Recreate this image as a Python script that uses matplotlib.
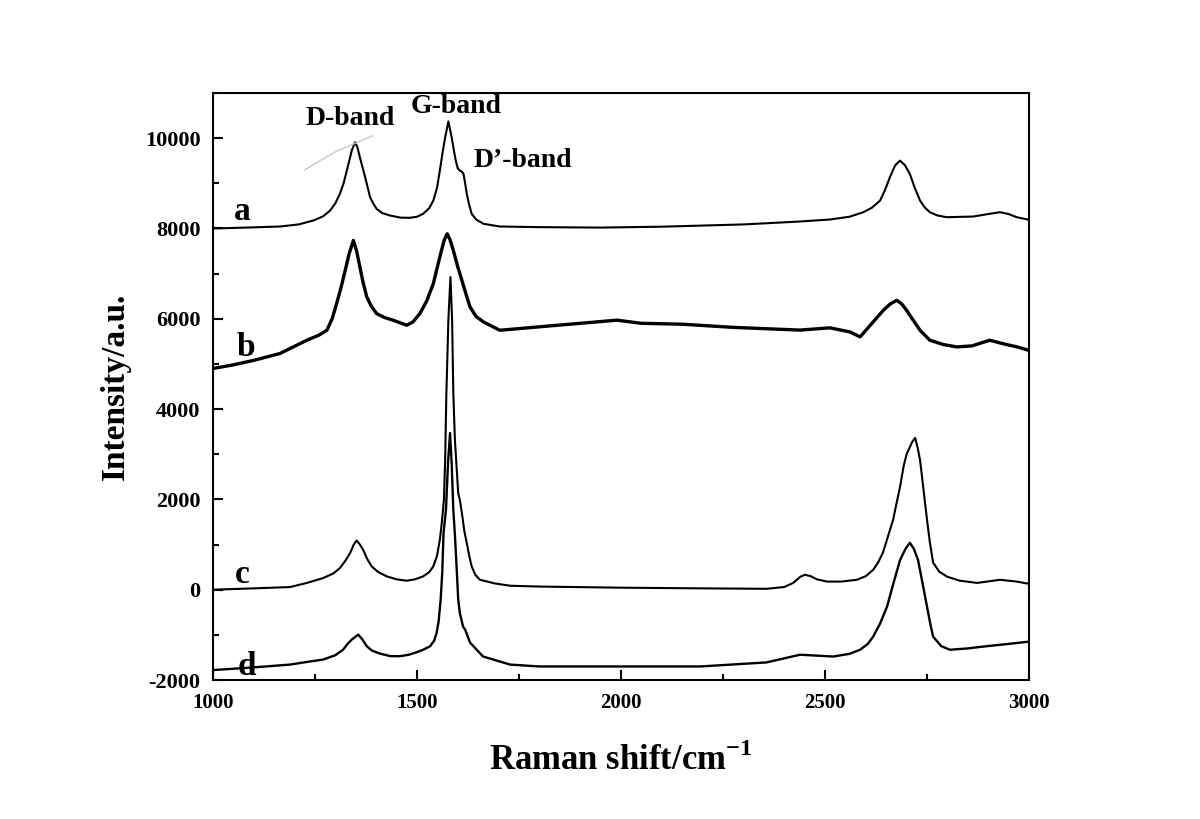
import numpy as np
import matplotlib
matplotlib.use("Agg")
import matplotlib.pyplot as plt
from matplotlib.ticker import MultipleLocator

plt.rcParams['font.family'] = ['Liberation Serif', 'DejaVu Serif']
plt.rcParams['font.weight'] = 'bold'
plt.rcParams['axes.unicode_minus'] = False
plt.rcParams['mathtext.fontset'] = 'custom'
plt.rcParams['mathtext.rm'] = 'Liberation Serif:bold'
plt.rcParams['mathtext.bf'] = 'Liberation Serif:bold'

# спектр a
a_x = [1000, 1080, 1164, 1210, 1246, 1270, 1287, 1300, 1311, 1320, 1328, 1340, 1348, 1354,
       1360, 1373, 1385, 1393, 1401, 1415, 1434, 1460, 1483, 1500, 1515, 1530, 1540, 1549,
       1556, 1563, 1569, 1577, 1585, 1590, 1595, 1600, 1605, 1610, 1614, 1618, 1622, 1628,
       1634, 1645, 1663, 1703, 1800, 1948, 2100, 2300, 2439, 2512, 2560, 2594, 2615, 2635,
       2647, 2659, 2672, 2684, 2696, 2708, 2720, 2733, 2745, 2757, 2775, 2798, 2863, 2900,
       2929, 2950, 2970, 3000]
a_y = [8000, 8020, 8044, 8090, 8177, 8270, 8398, 8560, 8767, 9000, 9282, 9724, 9908, 9800,
       9576, 9134, 8692, 8550, 8435, 8340, 8287, 8240, 8237, 8260, 8325, 8450, 8619, 8900,
       9282, 9700, 10018, 10372, 10018, 9750, 9503, 9330, 9282, 9260, 9208, 9000, 8767, 8520,
       8325, 8200, 8104, 8044, 8030, 8020, 8040, 8090, 8155, 8199, 8260, 8361, 8460, 8619,
       8850, 9134, 9400, 9503, 9400, 9208, 8900, 8619, 8460, 8361, 8290, 8250, 8265, 8320,
       8361, 8320, 8250, 8193]

# спектр b
b_x = [1000, 1050, 1100, 1164, 1230, 1260, 1279, 1292, 1303, 1314, 1324, 1334, 1344, 1352,
       1360, 1368, 1377, 1388, 1401, 1420, 1442, 1475, 1490, 1507, 1524, 1540, 1550, 1560,
       1567, 1574, 1581, 1589, 1600, 1610, 1620, 1630, 1645, 1663, 1703, 1784, 1900, 1990,
       2050, 2150, 2275, 2439, 2512, 2561, 2586, 2618, 2643, 2660, 2676, 2688, 2700, 2716,
       2733, 2757, 2790, 2823, 2860, 2904, 2940, 2970, 3000]
b_y = [4900, 4980, 5080, 5231, 5525, 5640, 5746, 6000, 6336, 6700, 7072, 7450, 7735, 7500,
       7145, 6800, 6482, 6280, 6115, 6030, 5967, 5857, 5930, 6115, 6400, 6778, 7150, 7514,
       7750, 7883, 7750, 7514, 7150, 6851, 6550, 6261, 6050, 5930, 5746, 5810, 5900, 5970,
       5900, 5880, 5810, 5750, 5800, 5709, 5600, 5930, 6188, 6330, 6409, 6330, 6188, 5970,
       5746, 5525, 5430, 5377, 5400, 5525, 5440, 5380, 5300]

# спектр c
c_x = [1000, 1100, 1189, 1230, 1270, 1295, 1311, 1325, 1336, 1345, 1352, 1360, 1368, 1378,
       1389, 1405, 1426, 1450, 1475, 1495, 1515, 1530, 1540, 1549, 1556, 1561, 1566, 1569,
       1572, 1577, 1582, 1586, 1589, 1593, 1596, 1601, 1605, 1610, 1616, 1622, 1628, 1634,
       1643, 1654, 1690, 1728, 1800, 1998, 2200, 2357, 2400, 2422, 2440, 2451, 2465, 2480,
       2505, 2540, 2578, 2600, 2618, 2630, 2642, 2655, 2667, 2675, 2684, 2693, 2700, 2708,
       2714, 2721, 2727, 2733, 2741, 2750, 2757, 2765, 2780, 2799, 2830, 2873, 2929, 2970,
       3000]
c_y = [0, 30, 59, 150, 258, 360, 479, 650, 811, 1000, 1090, 1000, 884, 680,
       516, 390, 295, 230, 199, 230, 295, 390, 516, 750, 1105, 1500, 1989, 2870,
       4350, 6000, 6925, 6000, 4350, 3300, 2870, 2140, 1989, 1700, 1300, 1032, 750, 516,
       330, 221, 140, 88, 70, 45, 30, 20, 60, 150, 290, 330, 300, 230,
       180, 180, 220, 300, 440, 600, 820, 1200, 1550, 1900, 2280, 2750, 3000, 3160,
       3280, 3360, 3150, 2870, 2250, 1550, 1050, 600, 400, 290, 200, 150, 220, 180,
       130]

# спектр d
d_x = [1000, 1100, 1189, 1230, 1270, 1300, 1319, 1330, 1340, 1356, 1366, 1377, 1390, 1409,
       1434, 1458, 1480, 1499, 1515, 1532, 1542, 1548, 1553, 1558, 1562, 1565, 1571, 1576,
       1581, 1585, 1589, 1593, 1597, 1601, 1605, 1613, 1618, 1630, 1646, 1662, 1687, 1728,
       1800, 1990, 2194, 2357, 2400, 2439, 2480, 2520, 2560, 2586, 2605, 2618, 2635, 2652,
       2668, 2684, 2697, 2708, 2718, 2728, 2740, 2750, 2758, 2765, 2785, 2806, 2850, 2887,
       2950, 3000]
d_y = [-1780, -1720, -1658, -1600, -1547, -1450, -1326, -1200, -1105, -995, -1100, -1253, -1350, -1414,
       -1470, -1473, -1440, -1385, -1330, -1253, -1130, -958, -700, -221, 400, 1253, 1770, 2800,
       3470, 2800, 1770, 1200, 516, -220, -516, -820, -884, -1170, -1326, -1480, -1547, -1658,
       -1700, -1700, -1700, -1610, -1520, -1440, -1460, -1480, -1420, -1330, -1200, -1040, -750, -375,
       150, 660, 900, 1040, 900, 660, 100, -375, -750, -1040, -1250, -1330, -1300, -1260,
       -1200, -1150]

# серая черта возле D-band
mark_x = [1225, 1300, 1392]
mark_y = [9300, 9700, 10055]

fig = plt.figure(figsize=(12, 8.19), dpi=100)
ax = fig.add_axes([0.1775, 0.1697, 0.68, 0.7167])

ax.plot(a_x, a_y, color='black', lw=1.5)
ax.plot(b_x, b_y, color='black', lw=2.4)
ax.plot(c_x, c_y, color='black', lw=1.5)
ax.plot(d_x, d_y, color='black', lw=1.7)
ax.plot(mark_x, mark_y, color='#c8c8c8', lw=1.0)

# подписи кривых и полос
ax.text(1071, 8376, 'a', fontsize=24, fontweight='bold', ha='center', va='center')
ax.text(1081, 5370, 'b', fontsize=24, fontweight='bold', ha='center', va='center')
ax.text(1071, 330, 'c', fontsize=24, fontweight='bold', ha='center', va='center')
ax.text(1083, -1700, 'd', fontsize=24, fontweight='bold', ha='center', va='center')
ax.text(1336, 10430, 'D-band', fontsize=20, fontweight='bold', ha='center', va='center')
ax.text(1596, 10700, 'G-band', fontsize=20, fontweight='bold', ha='center', va='center')
ax.text(1760, 9500, 'D\u2019-band', fontsize=20, fontweight='bold', ha='center', va='center')

ax.set_xlim(1000, 3000)
ax.set_ylim(-2000, 11000)
ax.xaxis.set_major_locator(MultipleLocator(500))
ax.xaxis.set_minor_locator(MultipleLocator(250))
ax.yaxis.set_major_locator(MultipleLocator(2000))
ax.yaxis.set_minor_locator(MultipleLocator(1000))
ax.tick_params(which='both', direction='in', top=False, right=False, width=1.5)
ax.tick_params(which='major', length=7, pad=9)
ax.tick_params(axis='x', labelsize=15)
ax.tick_params(axis='y', labelsize=16)
ax.tick_params(which='minor', length=4)
for lbl in ax.get_xticklabels() + ax.get_yticklabels():
    lbl.set_fontweight('bold')
for sp in ax.spines.values():
    sp.set_linewidth(1.5)

ax.set_xlabel('Raman shift/cm$^{-1}$', fontsize=25, fontweight='bold', labelpad=22)
ax.set_ylabel('Intensity/a.u.', fontsize=24, fontweight='bold', labelpad=10)

fig.savefig('out.png', dpi=100)
